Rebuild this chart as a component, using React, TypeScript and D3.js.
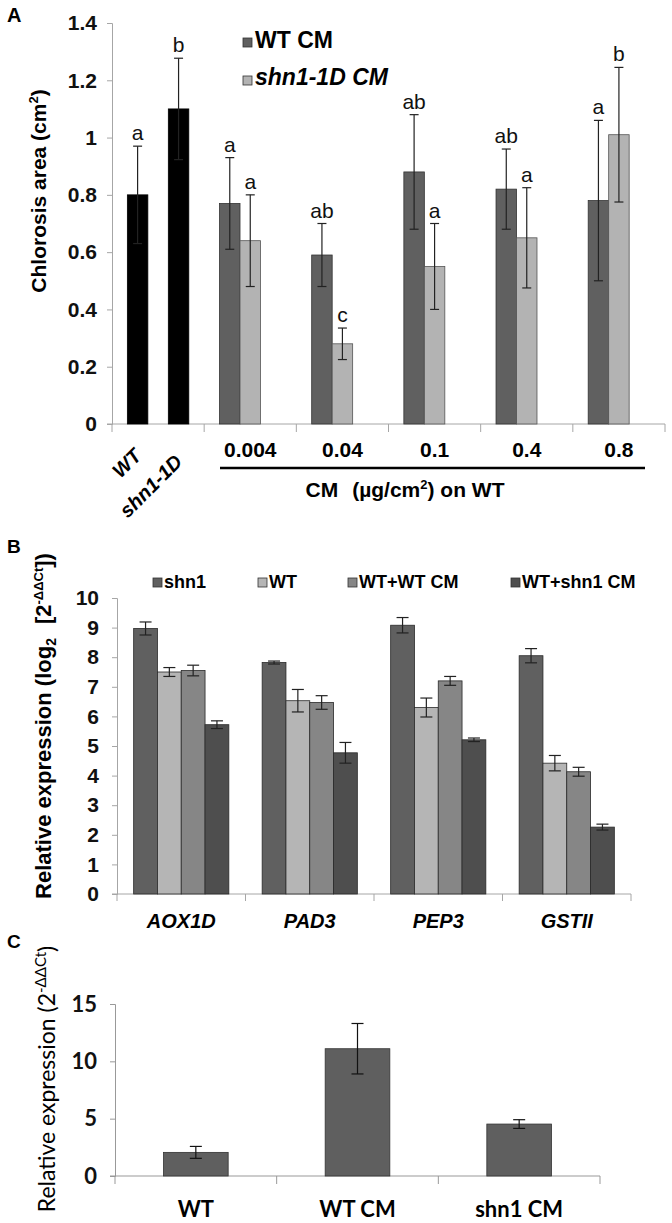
import { useEffect, useRef } from 'react';
import * as d3 from 'd3';

const SANS = "'Liberation Sans', Arial, sans-serif";
const CAL = "Lato, 'Liberation Sans', sans-serif";

// Panel A: chlorosis area
const controlLabels = ['WT', 'shn1-1D'];
const controlMeans = [0.8, 1.1];
const controlErr = [0.17, 0.177];
const controlLetters = ['a', 'b'];
const doseLabels = ['0.004', '0.04', '0.1', '0.4', '0.8'];
const wtCmMeans = [0.77, 0.59, 0.88, 0.82, 0.78];
const wtCmErr = [0.16, 0.11, 0.2, 0.14, 0.28];
const wtCmLetters = ['a', 'ab', 'ab', 'ab', 'a'];
const shnCmMeans = [0.64, 0.28, 0.55, 0.65, 1.01];
const shnCmErr = [0.16, 0.055, 0.15, 0.175, 0.235];
const shnCmLetters = ['a', 'c', 'a', 'a', 'b'];
const ticksA = [0, 0.2, 0.4, 0.6, 0.8, 1, 1.2, 1.4];

// Panel B: relative expression (log2)
const genes = ['AOX1D', 'PAD3', 'PEP3', 'GSTII'];
const seriesB = ['shn1', 'WT', 'WT+WT CM', 'WT+shn1 CM'];
const colorsB = ['#606060', '#b5b5b5', '#868686', '#4e4e4e'];
const shn1Vals = [8.97, 7.82, 9.08, 8.05];
const shn1Err = [0.22, 0.05, 0.26, 0.24];
const wtVals = [7.5, 6.53, 6.3, 4.42];
const wtErr = [0.15, 0.38, 0.32, 0.26];
const wtWtVals = [7.55, 6.47, 7.2, 4.13];
const wtWtErr = [0.18, 0.23, 0.15, 0.15];
const wtShnVals = [5.72, 4.77, 5.21, 2.26];
const wtShnErr = [0.13, 0.35, 0.06, 0.1];
const legendBx = [153, 258, 348, 511];

// Panel C: relative expression
const groupsC = ['WT', 'WT CM', 'shn1 CM'];
const valsC = [2.06, 11.1, 4.53];
const errC = [0.52, 2.2, 0.38];
const ticksC = [0, 5, 10, 15];

const App = () => {
  const svgRef = useRef(null);

  useEffect(() => {
    const svg = d3.select(svgRef.current);
    svg.selectAll('*').remove();

    const errBar = (g, x, y0, y1, cap, color = '#222') => {
      g.append('line').attr('x1', x).attr('x2', x).attr('y1', y0).attr('y2', y1)
        .attr('stroke', color).attr('stroke-width', 1.2);
      [y0, y1].forEach((yy) => {
        g.append('line').attr('x1', x - cap / 2).attr('x2', x + cap / 2)
          .attr('y1', yy).attr('y2', yy).attr('stroke', color).attr('stroke-width', 1.2);
      });
    };

    // ---------- Panel A ----------
    const gA = svg.append('g');
    gA.append('text').attr('x', 7).attr('y', 22).text('A')
      .style('font', `bold 20px ${SANS}`);

    const catsA = ['ctrl', ...doseLabels];
    const x0A = d3.scaleBand().domain(catsA).range([112, 665]);
    const x1A = d3.scaleBand().domain(['0', '1', '2']).range([0, x0A.bandwidth()])
      .paddingOuter(0.75).paddingInner(0);
    const yA = d3.scaleLinear().domain([0, 1.4]).range([424, 23]);

    const axA = gA.append('g').attr('transform', 'translate(112,0)')
      .call(d3.axisLeft(yA).tickValues(ticksA).tickSize(5).tickPadding(10)
        .tickFormat((d) => String(+(+d).toFixed(1))));
    axA.select('.domain').attr('stroke', '#a6a6a6');
    axA.selectAll('.tick line').attr('stroke', '#a6a6a6');
    axA.selectAll('.tick text').style('font', `bold 21px ${SANS}`).attr('fill', '#111');

    gA.append('line').attr('x1', 107).attr('x2', 665).attr('y1', yA(0)).attr('y2', yA(0))
      .attr('stroke', '#a6a6a6');
    catsA.forEach((c) => {
      gA.append('line').attr('x1', x0A(c)).attr('x2', x0A(c))
        .attr('y1', yA(0)).attr('y2', yA(0) + 8).attr('stroke', '#a6a6a6');
    });
    gA.append('line').attr('x1', 665).attr('x2', 665)
      .attr('y1', yA(0)).attr('y2', yA(0) + 8).attr('stroke', '#a6a6a6');

    const barsA = [];
    controlMeans.forEach((m, i) => {
      barsA.push({ cat: 'ctrl', slot: i === 0 ? '0' : '2', v: m, e: controlErr[i],
        fill: '#000', stroke: '#000', letter: controlLetters[i] });
    });
    doseLabels.forEach((d, i) => {
      barsA.push({ cat: d, slot: '0', v: wtCmMeans[i], e: wtCmErr[i],
        fill: '#606060', stroke: '#333', letter: wtCmLetters[i] });
      barsA.push({ cat: d, slot: '1', v: shnCmMeans[i], e: shnCmErr[i],
        fill: '#b3b3b3', stroke: '#555', letter: shnCmLetters[i] });
    });
    barsA.forEach((b) => {
      const x = x0A(b.cat) + x1A(b.slot);
      const w = x1A.bandwidth();
      gA.append('rect').attr('x', x).attr('y', yA(b.v)).attr('width', w)
        .attr('height', yA(0) - yA(b.v)).attr('fill', b.fill)
        .attr('stroke', b.stroke).attr('stroke-width', 0.8);
      const cx = x + w / 2;
      errBar(gA, cx, yA(b.v + b.e), yA(b.v - b.e), 9);
      gA.append('text').attr('x', cx).attr('y', yA(b.v + b.e) - 6)
        .attr('text-anchor', 'middle').text(b.letter)
        .style('font', `21px ${SANS}`).attr('fill', '#111');
    });

    // control labels, rotated
    controlLabels.forEach((l, i) => {
      const cx = x0A('ctrl') + x1A(i === 0 ? '0' : '2') + x1A.bandwidth() / 2;
      gA.append('text').attr('text-anchor', 'end')
        .attr('transform', `translate(${cx + 5},${yA(0) + 33 + i * 6}) rotate(-45)`)
        .text(l).style('font', `italic bold 20px ${SANS}`);
    });
    doseLabels.forEach((d) => {
      gA.append('text').attr('x', x0A(d) + x0A.bandwidth() / 2).attr('y', 457)
        .attr('text-anchor', 'middle').text(d).style('font', `bold 21px ${SANS}`);
    });
    gA.append('line').attr('x1', 220).attr('x2', 645).attr('y1', 468).attr('y2', 468)
      .attr('stroke', '#000').attr('stroke-width', 2.5);
    const cap = gA.append('text').attr('x', 405).attr('y', 497).attr('text-anchor', 'middle')
      .style('font', `bold 21px ${SANS}`);
    cap.append('tspan').text('CM');
    cap.append('tspan').attr('dx', 14).text('(µg/cm');
    cap.append('tspan').attr('dy', -8).style('font-size', '13px').text('2');
    cap.append('tspan').attr('dy', 8).text(') on WT');

    // y title
    const tA = gA.append('text').attr('transform', 'translate(46,191) rotate(-90)')
      .attr('text-anchor', 'middle').style('font', `bold 21px ${SANS}`);
    tA.append('tspan').text('Chlorosis area (cm');
    tA.append('tspan').attr('dy', -8).style('font-size', '13px').text('2');
    tA.append('tspan').attr('dy', 8).text(')');

    // legend
    [['WT CM', '#606060', 'normal', 38, 48], ['shn1-1D CM', '#b3b3b3', 'italic', 76, 85]]
      .forEach(([lab, col, st, ry, ty]) => {
        gA.append('rect').attr('x', 243).attr('y', ry).attr('width', 9).attr('height', 9)
          .attr('fill', col).attr('stroke', '#333').attr('stroke-width', 0.8);
        gA.append('text').attr('x', 255).attr('y', ty).text(lab)
          .style('font', `${st} bold 23px ${SANS}`);
      });

    // ---------- Panel B ----------
    const gB = svg.append('g');
    gB.append('text').attr('x', 7).attr('y', 553).text('B').style('font', `bold 19px ${SANS}`);
    const x0B = d3.scaleBand().domain(genes).range([117, 631]);
    const x1B = d3.scaleBand().domain(seriesB).range([0, x0B.bandwidth()])
      .paddingOuter(0.7).paddingInner(0);
    const yB = d3.scaleLinear().domain([0, 10]).range([894, 598]);

    const axB = gB.append('g').attr('transform', 'translate(117,0)')
      .call(d3.axisLeft(yB).ticks(10).tickSize(5).tickPadding(13).tickFormat(d3.format('d')));
    axB.select('.domain').attr('stroke', '#a6a6a6');
    axB.selectAll('.tick line').attr('stroke', '#a6a6a6');
    axB.selectAll('.tick text').style('font', `bold 21px ${SANS}`).attr('fill', '#111');
    gB.append('line').attr('x1', 112).attr('x2', 631).attr('y1', yB(0)).attr('y2', yB(0))
      .attr('stroke', '#a6a6a6');
    [...genes.map((g) => x0B(g)), 631].forEach((x) => {
      gB.append('line').attr('x1', x).attr('x2', x).attr('y1', yB(0)).attr('y2', yB(0) + 7)
        .attr('stroke', '#a6a6a6');
    });

    const valsB = [shn1Vals, wtVals, wtWtVals, wtShnVals];
    const errsB = [shn1Err, wtErr, wtWtErr, wtShnErr];
    genes.forEach((g, gi) => {
      seriesB.forEach((s, si) => {
        const v = valsB[si][gi];
        const e = errsB[si][gi];
        const x = x0B(g) + x1B(s);
        const w = x1B.bandwidth();
        gB.append('rect').attr('x', x).attr('y', yB(v)).attr('width', w)
          .attr('height', yB(0) - yB(v)).attr('fill', colorsB[si])
          .attr('stroke', '#2a2a2a').attr('stroke-width', 0.8);
        errBar(gB, x + w / 2, yB(v + e), yB(v - e), 12);
      });
      gB.append('text').attr('x', x0B(g) + x0B.bandwidth() / 2).attr('y', 928)
        .attr('text-anchor', 'middle').text(g).style('font', `italic bold 20px ${SANS}`);
    });

    seriesB.forEach((s, si) => {
      gB.append('rect').attr('x', legendBx[si]).attr('y', 578).attr('width', 9).attr('height', 9)
        .attr('fill', colorsB[si]).attr('stroke', '#333').attr('stroke-width', 0.8);
      gB.append('text').attr('x', legendBx[si] + 11).attr('y', 588).text(s)
        .style('font', `bold 18px ${SANS}`);
    });

    const tB = gB.append('text').attr('transform', 'translate(51,726) rotate(-90)')
      .attr('text-anchor', 'middle').style('font', `bold 22px ${SANS}`);
    tB.append('tspan').text('Relative expression (log');
    tB.append('tspan').attr('dy', 5).style('font-size', '14px').text('2');
    tB.append('tspan').attr('dy', -5).attr('dx', 14).text('[2');
    tB.append('tspan').attr('dy', -8).style('font-size', '13px').text('-ΔΔCt');
    tB.append('tspan').attr('dy', 8).text('])');

    // ---------- Panel C ----------
    const gC = svg.append('g');
    gC.append('text').attr('x', 7).attr('y', 948).text('C').style('font', `bold 19px ${SANS}`);
    const xC = d3.scaleBand().domain(groupsC).range([115, 600]).paddingInner(0.6).paddingOuter(0.3);
    const yC = d3.scaleLinear().domain([0, 15]).range([1176, 1004]);
    const axC = gC.append('g').attr('transform', 'translate(115,0)')
      .call(d3.axisLeft(yC).tickValues(ticksC).tickSize(5).tickPadding(13));
    axC.select('.domain').attr('stroke', '#999');
    axC.selectAll('.tick line').attr('stroke', '#999');
    axC.selectAll('.tick text').style('font', `bold 22px ${CAL}`).attr('fill', '#111');
    gC.append('line').attr('x1', 110).attr('x2', 600).attr('y1', yC(0)).attr('y2', yC(0))
      .attr('stroke', '#999');
    [0, 1, 2, 3].forEach((i) => {
      const x = 115 + (i * 485) / 3;
      gC.append('line').attr('x1', x).attr('x2', x).attr('y1', yC(0)).attr('y2', yC(0) + 8)
        .attr('stroke', '#999');
    });
    groupsC.forEach((g, i) => {
      const x = xC(g);
      const w = xC.bandwidth();
      gC.append('rect').attr('x', x).attr('y', yC(valsC[i])).attr('width', w)
        .attr('height', yC(0) - yC(valsC[i])).attr('fill', '#5f5f5f')
        .attr('stroke', '#333').attr('stroke-width', 0.8);
      errBar(gC, x + w / 2, yC(valsC[i] + errC[i]), yC(valsC[i] - errC[i]), 12, '#111');
      gC.append('text').attr('x', x + w / 2).attr('y', 1217).attr('text-anchor', 'middle')
        .text(g).style('font', `bold 22px ${CAL}`);
    });
    const tC = gC.append('text').attr('transform', 'translate(55,1079) rotate(-90)')
      .attr('text-anchor', 'middle').style('font', `23px ${CAL}`);
    tC.append('tspan').text('Relative expression (2');
    tC.append('tspan').attr('dy', -9).style('font-size', '15px').text('-ΔΔCt');
    tC.append('tspan').attr('dy', 9).text(')');
  }, []);

  return (
    <svg
      ref={svgRef}
      width={672}
      height={1223}
      style={{ position: 'absolute', left: 0, top: 0, background: '#fff' }}
    />
  );
};

export default App;
